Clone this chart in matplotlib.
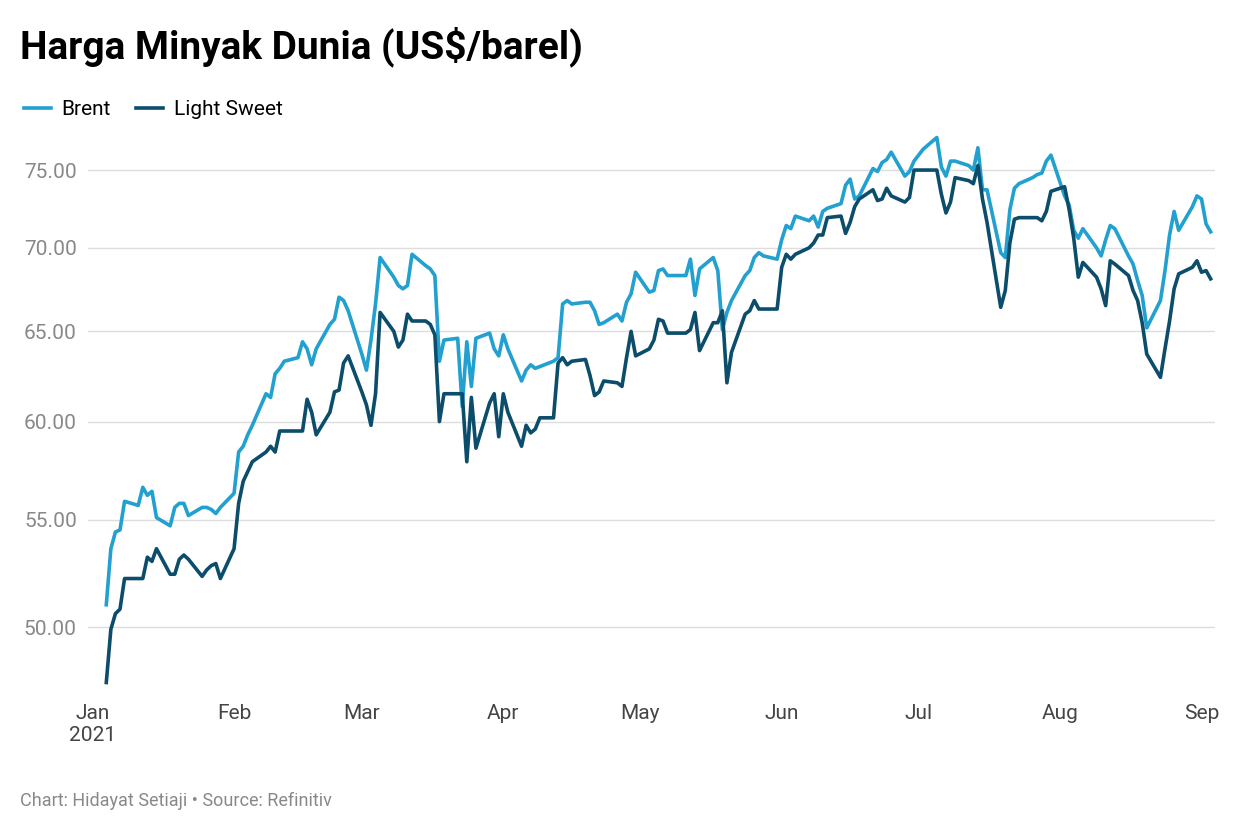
import matplotlib
matplotlib.use("Agg")
import matplotlib.pyplot as plt
import matplotlib.ticker as mt
import matplotlib.dates as mdates
import pandas as pd

brent = [51.0,53.6,54.4,54.5,55.9, 55.7,56.6,56.2,56.4,55.1, 54.7,55.6,55.8,55.8,55.2,
 55.6,55.6,55.5,55.3,55.6, 56.3,58.4,58.7,59.3,59.8, 61.5,61.3,62.6,62.9,63.3,
 63.5,64.4,64.0,63.1,64.0, 65.4,65.7,67.0,66.8,66.2, 63.7,62.8,64.5,66.6,69.4,
 68.2,67.7,67.5,67.7,69.6, 68.9,68.7,68.3,63.3,64.5, 64.6,60.8,64.4,61.9,64.6,
 64.9,64.0,63.6,64.8,64.0, 62.2,62.8,63.1,62.9,63.0, 63.3,63.5,66.6,66.8,66.6,
 66.7,66.7,66.2,65.4,65.5, 66.0,65.6,66.7,67.2,68.5, 67.3,67.4,68.6,68.7,68.3,
 68.3,68.3,69.3,67.1,68.7, 69.4,68.6,65.1,66.1,66.8, 68.3,68.6,69.4,69.7,69.5,
 69.3,70.5,71.4,71.2,72.0, 71.7,72.0,71.3,72.3,72.5, 72.8,74.0,74.4,73.1,73.3,
 75.1,74.9,75.5,75.7,76.2, 74.6,74.9,75.6,76.0,76.4, 77.2,75.2,74.6,75.6,75.6,
 75.3,75.0,76.5,73.7,73.7, 69.7,69.4,72.4,73.8,74.1, 74.5,74.7,74.8,75.6,76.0,
 73.3,72.7,71.1,70.6,71.2, 70.0,69.5,70.5,71.4,71.2, 69.5,69.0,68.0,67.1,65.2,
 66.8,68.6,70.8,72.3,71.1, 72.6,73.3,73.1,71.5,71.0]
light_sweet = [47.6,49.9,50.6,50.8,52.2, 52.2,52.2,53.2,53.0,53.6, 52.4,52.4,53.1,53.3,53.1,
 52.3,52.6,52.8,52.9,52.2, 53.6,55.8,56.9,57.4,57.9, 58.4,58.7,58.4,59.5,59.5,
 59.5,59.5,61.2,60.5,59.3, 60.5,61.6,61.7,63.2,63.6, 61.6,60.9,59.8,61.5,66.1,
 65.0,64.1,64.5,66.0,65.6, 65.6,65.4,64.8,60.0,61.5, 61.5,61.5,57.9,61.3,58.6,
 61.0,61.5,59.2,61.5,60.5, 58.7,59.8,59.4,59.6,60.2, 60.2,63.2,63.5,63.1,63.3,
 63.4,62.5,61.4,61.6,62.2, 62.1,61.9,63.5,65.0,63.6, 64.0,64.5,65.7,65.6,64.9,
 64.9,64.9,65.1,66.1,63.9, 65.5,65.5,66.2,62.1,63.8, 66.0,66.2,66.8,66.3,66.3,
 66.3,68.8,69.6,69.3,69.6, 70.0,70.3,70.8,70.8,71.9, 72.0,70.9,71.6,72.6,73.1,
 73.7,73.0,73.1,73.8,73.3, 72.9,73.2,75.0,75.0,75.0, 75.0,73.4,72.2,72.9,74.5,
 74.3,74.1,75.3,73.1,71.6, 66.4,67.4,70.3,71.8,71.9, 71.9,71.9,71.7,72.3,73.6,
 73.9,72.4,70.6,68.2,69.1, 68.2,67.5,66.5,69.2,69.0, 68.3,67.4,66.8,65.5,63.7,
 62.4,64.0,65.6,67.5,68.4, 68.8,69.2,68.5,68.6,68.1]
dates = pd.bdate_range("2021-01-04", periods=len(brent))
yticks = [50, 55, 60, 65, 70, 75]
month_labels = ["Jan\n2021","Feb","Mar","Apr","May","Jun","Jul","Aug","Sep"]

plt.rcParams["font.family"] = "Roboto"
fig = plt.figure(figsize=(12.4, 8.4), dpi=100)
ax = fig.add_axes([0.071, 0.179, 0.909, 0.666])
c1, c2 = "#22a0cf", "#0b4d6b"
ax.plot(dates, brent, color=c1, lw=2.6, label="Brent")
ax.plot(dates, light_sweet, color=c2, lw=2.6, label="Light Sweet")
ax.set_yscale("log")
ax.set_ylim(47.3, 77.7)
ax.set_xlim(pd.Timestamp("2020-12-31"), pd.Timestamp("2021-09-04"))
ax.yaxis.set_major_locator(mt.FixedLocator(yticks))
ax.yaxis.set_minor_locator(mt.NullLocator())
ax.set_yticklabels([f"{v:.2f}" for v in yticks])
ax.set_xticks(pd.date_range("2021-01-01", "2021-09-01", freq="MS"))
ax.set_xticklabels(month_labels)
ax.tick_params(axis="y", length=0, labelsize=15, colors="#888888", pad=8)
ax.tick_params(axis="x", length=0, labelsize=15, colors="#444444", pad=10)
ax.grid(axis="y", color="#dddddd", lw=1)
ax.set_axisbelow(True)
for s in ax.spines.values():
    s.set_visible(False)
fig.text(0.016, 0.945, "Harga Minyak Dunia (US$/barel)", fontsize=28, fontweight="bold", va="center")
ax.legend(loc="lower left", bbox_to_anchor=(-0.064, 1.005), ncol=2, frameon=False,
          fontsize=15, handlelength=1.3, handletextpad=0.5, columnspacing=1.2,
          borderaxespad=0)
fig.text(0.016, 0.04, "Chart: Hidayat Setiaji • Source: Refinitiv", fontsize=13, color="#888888")
fig.savefig("out.png")
